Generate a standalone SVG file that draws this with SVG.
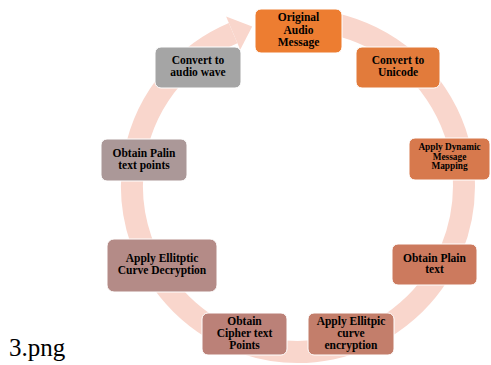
<svg xmlns="http://www.w3.org/2000/svg" width="491" height="365" viewBox="0 0 491 365">
<style>
.box{stroke:#ffffff;stroke-width:1}
.t{font-family:"Liberation Serif","Times New Roman",serif;font-weight:bold;font-size:11.5px;fill:#000;text-anchor:middle}
.s{font-size:9.3px}
.ring{fill:none;stroke:#f9d6cc;stroke-width:22}
</style>
<rect width="491" height="365" fill="#ffffff"/>
<g id="connectors">
<path class="ring" d="M 298 20 A 166 166 0 1 1 233.1 33.2"/>
<polygon points="226.1,16.6 252.2,26.4 240.2,49.8" fill="#f9d6cc"/>
</g>
<g id="n1"><rect class="box" x="255" y="9" width="87" height="44" rx="6" fill="#ed7d31"/>
<text class="t" x="298.5" y="21">Original</text><text class="t" x="298.5" y="33.5">Audio</text><text class="t" x="298.5" y="46">Message</text></g>
<g id="n2"><rect class="box" x="356" y="47" width="84" height="41" rx="6" fill="#e27b3b"/>
<text class="t" x="398" y="64">Convert to</text><text class="t" x="398" y="76">Unicode</text></g>
<g id="n3"><rect class="box" x="409" y="138" width="81" height="42" rx="6" fill="#d7794d"/>
<text class="t s" x="449.5" y="150">Apply Dynamic</text><text class="t s" x="449.5" y="159.5">Message</text><text class="t s" x="449.5" y="169">Mapping</text></g>
<g id="n4"><rect class="box" x="392" y="244" width="85" height="41" rx="6" fill="#cc7a5e"/>
<text class="t" x="434.5" y="262">Obtain Plain</text><text class="t" x="434.5" y="273">text</text></g>
<g id="n5"><rect class="box" x="308" y="313" width="86" height="42" rx="6" fill="#c37e6b"/>
<text class="t" x="351" y="325">Apply Ellitpic</text><text class="t" x="351" y="337">curve</text><text class="t" x="351" y="349">encryption</text></g>
<g id="n6"><rect class="box" x="202" y="313" width="85" height="42" rx="6" fill="#bb8178"/>
<text class="t" x="244.5" y="325">Obtain</text><text class="t" x="244.5" y="337">Cipher text</text><text class="t" x="244.5" y="349">Points</text></g>
<g id="n7"><rect class="box" x="107" y="239" width="110" height="53" rx="7" fill="#b48b87"/>
<text class="t" x="162" y="262">Apply Ellitptic</text><text class="t" x="162" y="274">Curve Decryption</text></g>
<g id="n8"><rect class="box" x="101" y="139" width="86" height="42" rx="6" fill="#ab9898"/>
<text class="t" x="144" y="157">Obtain Palin</text><text class="t" x="144" y="169">text points</text></g>
<g id="n9"><rect class="box" x="155" y="47" width="86" height="41" rx="6" fill="#a5a5a5"/>
<text class="t" x="198" y="64">Convert to</text><text class="t" x="198" y="76">audio wave</text></g>
<text x="9" y="356" style="font-family:'Liberation Serif','Times New Roman',serif;font-size:25px;fill:#000">3.png</text>
</svg>
